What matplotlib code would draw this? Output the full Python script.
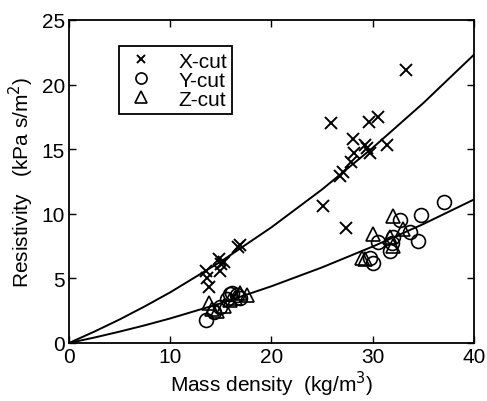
import matplotlib.pyplot as plt
import numpy as np

plt.rcParams["font.family"] = ["Liberation Sans", "DejaVu Sans"]

# X-cut samples
x_cut_density = [13.5, 13.6, 13.8, 14.8, 15.0, 14.9, 15.3, 16.7, 16.9, 25.1, 25.9,
                 26.8, 27.1, 27.4, 27.9, 28.1, 28.2, 29.2, 29.6, 29.7, 29.4, 30.5,
                 31.4, 33.3]
x_cut_resist = [5.6, 5.0, 4.3, 6.5, 6.1, 5.6, 6.3, 7.4, 7.6, 10.6, 17.0,
                12.9, 13.2, 8.9, 14.0, 15.8, 14.7, 15.3, 17.1, 14.7, 15.1, 17.5,
                15.3, 21.1]

# Y-cut samples
y_cut_density = [13.5, 14.3, 14.9, 15.6, 15.9, 16.1, 16.6, 16.9, 30.0, 29.7, 30.5,
                 31.7, 31.9, 32.7, 33.7, 34.5, 34.8, 37.1, 32.0]
y_cut_resist = [1.8, 2.4, 2.8, 3.4, 3.8, 3.9, 3.7, 3.5, 6.2, 6.6, 7.8,
                7.1, 7.7, 9.5, 8.6, 7.9, 9.9, 10.9, 8.2]

# Z-cut samples
z_cut_density = [13.8, 14.1, 14.6, 15.3, 15.9, 16.4, 16.9, 17.6, 28.9, 29.2, 30.0,
                 31.7, 32.0, 32.0, 33.0]
z_cut_resist = [3.1, 2.6, 2.5, 2.9, 3.3, 3.5, 3.9, 3.7, 6.6, 6.5, 8.4,
                8.2, 9.8, 7.5, 8.8]

# fitted curves
fit_density = [0, 2.5, 5, 7.5, 10, 15, 20, 25, 30, 35, 40]
fit_upper = [0, 0.88, 1.82, 2.84, 3.92, 6.3, 8.95, 11.88, 15.1, 18.56, 22.3]
fit_lower = [0, 0.42, 0.88, 1.37, 1.9, 3.07, 4.39, 5.85, 7.46, 9.2, 11.1]

fig = plt.figure(figsize=(4.87, 4.02), dpi=100)
ax = fig.add_axes([0.1417, 0.1443, 0.8313, 0.8037])

ax.plot(fit_density, fit_upper, color="black", linewidth=1.4)
ax.plot(fit_density, fit_lower, color="black", linewidth=1.4)

ax.plot(x_cut_density, x_cut_resist, linestyle="none", marker="x", color="black",
        markersize=9, markeredgewidth=1.4, label="X-cut")
ax.plot(y_cut_density, y_cut_resist, linestyle="none", marker="o", markerfacecolor="none",
        markeredgecolor="black", markersize=10, markeredgewidth=1.2, label="Y-cut")
ax.plot(z_cut_density, z_cut_resist, linestyle="none", marker="^", markerfacecolor="none",
        markeredgecolor="black", markersize=10, markeredgewidth=1.2, label="Z-cut")

ax.set_xlim(0, 40)
ax.set_ylim(0, 25)
ax.set_xticks([0, 10, 20, 30, 40])
ax.set_yticks([0, 5, 10, 15, 20, 25])
ax.tick_params(direction="in", top=True, right=True, length=5, width=1,
               labelsize=15, pad=3)
for s in ax.spines.values():
    s.set_linewidth(1.3)

ax.set_xlabel("Mass density  (kg/m$^3$)", fontsize=15, labelpad=2)
ax.set_ylabel("Resistivity   (kPa s/m$^2$)", fontsize=15, labelpad=4)

leg = ax.legend(loc="upper left", bbox_to_anchor=(0.123, 0.918), fontsize=15,
                frameon=True, fancybox=False, edgecolor="black", framealpha=1,
                handlelength=1.6, handletextpad=1.0, borderpad=0.25, labelspacing=0.0,
                borderaxespad=0)
leg.get_frame().set_linewidth(1.3)
for h in leg.legend_handles:
    h.set_markersize(8 if h.get_marker() != "x" else 6)

plt.savefig("out.png", dpi=100)
plt.close(fig)
